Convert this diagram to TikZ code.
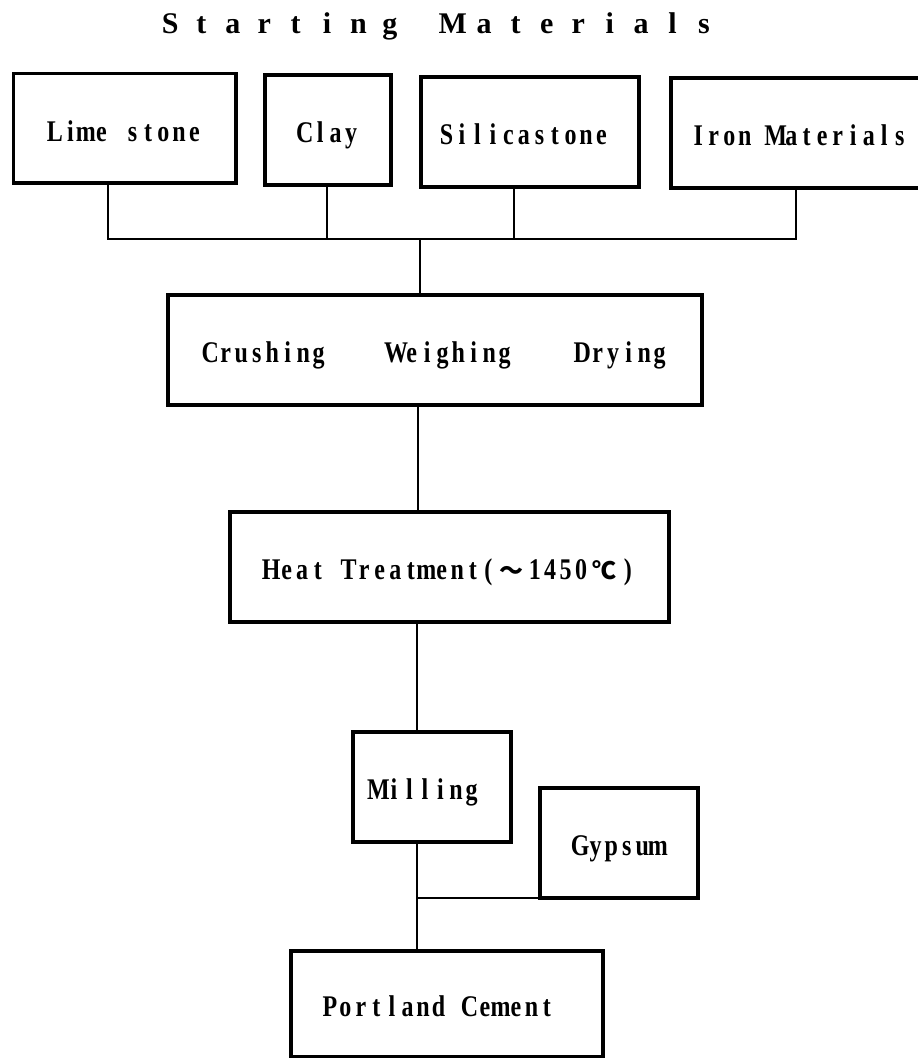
\documentclass[tikz,border=0pt]{standalone}
\usepackage{fontspec}
\newfontfamily\ttlfont{Liberation Serif}
\newfontfamily\boxfont{Liberation Serif}[FakeStretch=0.8]
\newfontfamily\cjkfont{Noto Sans CJK JP}
\newcommand\mono[1]{\monoi#1\relax}
\def\monoi#1{\ifx#1\relax\else\makebox[15.5pt]{#1}\expandafter\monoi\fi}
\newcommand\widech[1]{\makebox[31pt]{\cjkfont\bfseries\fontsize{24}{30}\selectfont #1}}
\newcommand\tl[1]{\makebox[31.4pt]{#1}}
\begin{document}
\begin{tikzpicture}[x=1pt,y=-1pt,
  box/.style={draw,line width=3.2pt,rectangle,inner sep=0pt,
    font={\boxfont\bfseries\fontsize{30}{36}\selectfont},
    text height=25.5pt,text depth=0pt},
  conn/.style={line width=2.8pt}]
\useasboundingbox (0,0) rectangle (918,1058);
% title
\node[anchor=base,inner sep=0pt,font={\ttlfont\bfseries\fontsize{30}{36}\selectfont}] (title) at (437,33)
  {\tl{S}\tl{t}\tl{a}\tl{r}\tl{t}\tl{i}\tl{n}\tl{g}\tl{}\tl{M}\tl{a}\tl{t}\tl{e}\tl{r}\tl{i}\tl{a}\tl{l}\tl{s}};
% boxes
\node[box,minimum width=222.5pt,minimum height=109.5pt] (lime) at (124.75,128.25) {\mono{Lime~stone}};
\node[box,minimum width=126pt,minimum height=110pt] (clay) at (328,130) {\mono{Clay}};
\node[box,minimum width=218pt,minimum height=110pt] (silica) at (530,132) {\mono{Silicastone}\hspace*{12pt}};
\node[box,minimum width=256pt,minimum height=110pt] (iron) at (799,133) {\mono{Iron~Materials}};
\node[box,minimum width=534pt,minimum height=110pt] (crush) at (435,350) {\mono{Crushing~~~~Weighing~~~~Drying}};
\node[box,minimum width=439pt,minimum height=110pt] (heat) at (449.5,567) {\mono{Heat~Treatment(}\widech{～}\mono{1450}\widech{℃}\mono{)}};
\node[box,minimum width=158pt,minimum height=110pt] (mill) at (432,787) {\mono{Milling}\hspace*{14pt}};
\node[box,minimum width=158pt,minimum height=110pt] (gyp) at (619,843) {\mono{Gypsum}};
\node[box,minimum width=312pt,minimum height=106pt] (port) at (447,1004) {\mono{Portland~Cement}\hspace*{17pt}};
% junction coordinates
\coordinate (dA) at (108,239);
\coordinate (dB) at (327,239);
\coordinate (dC) at (514,239);
\coordinate (dD) at (796,239);
\coordinate (bar) at (420,239);
\coordinate (sp) at (418,0);
\coordinate (j) at (417,898);
% connectors
\draw[conn] (lime.south -| dA) -- (dA) -- (dD) -- (iron.south -| dD);
\draw[conn] (clay.south -| dB) -- (dB);
\draw[conn] (silica.south -| dC) -- (dC);
\draw[conn] (bar) -- (bar |- crush.north);
\draw[conn] (crush.south -| sp) -- (heat.north -| sp);
\draw[conn] (heat.south -| j) -- (mill.north -| j);
\draw[conn] (mill.south -| j) -- (port.north -| j);
\draw[conn] (j) -- (j -| gyp.west);
\end{tikzpicture}
\end{document}
